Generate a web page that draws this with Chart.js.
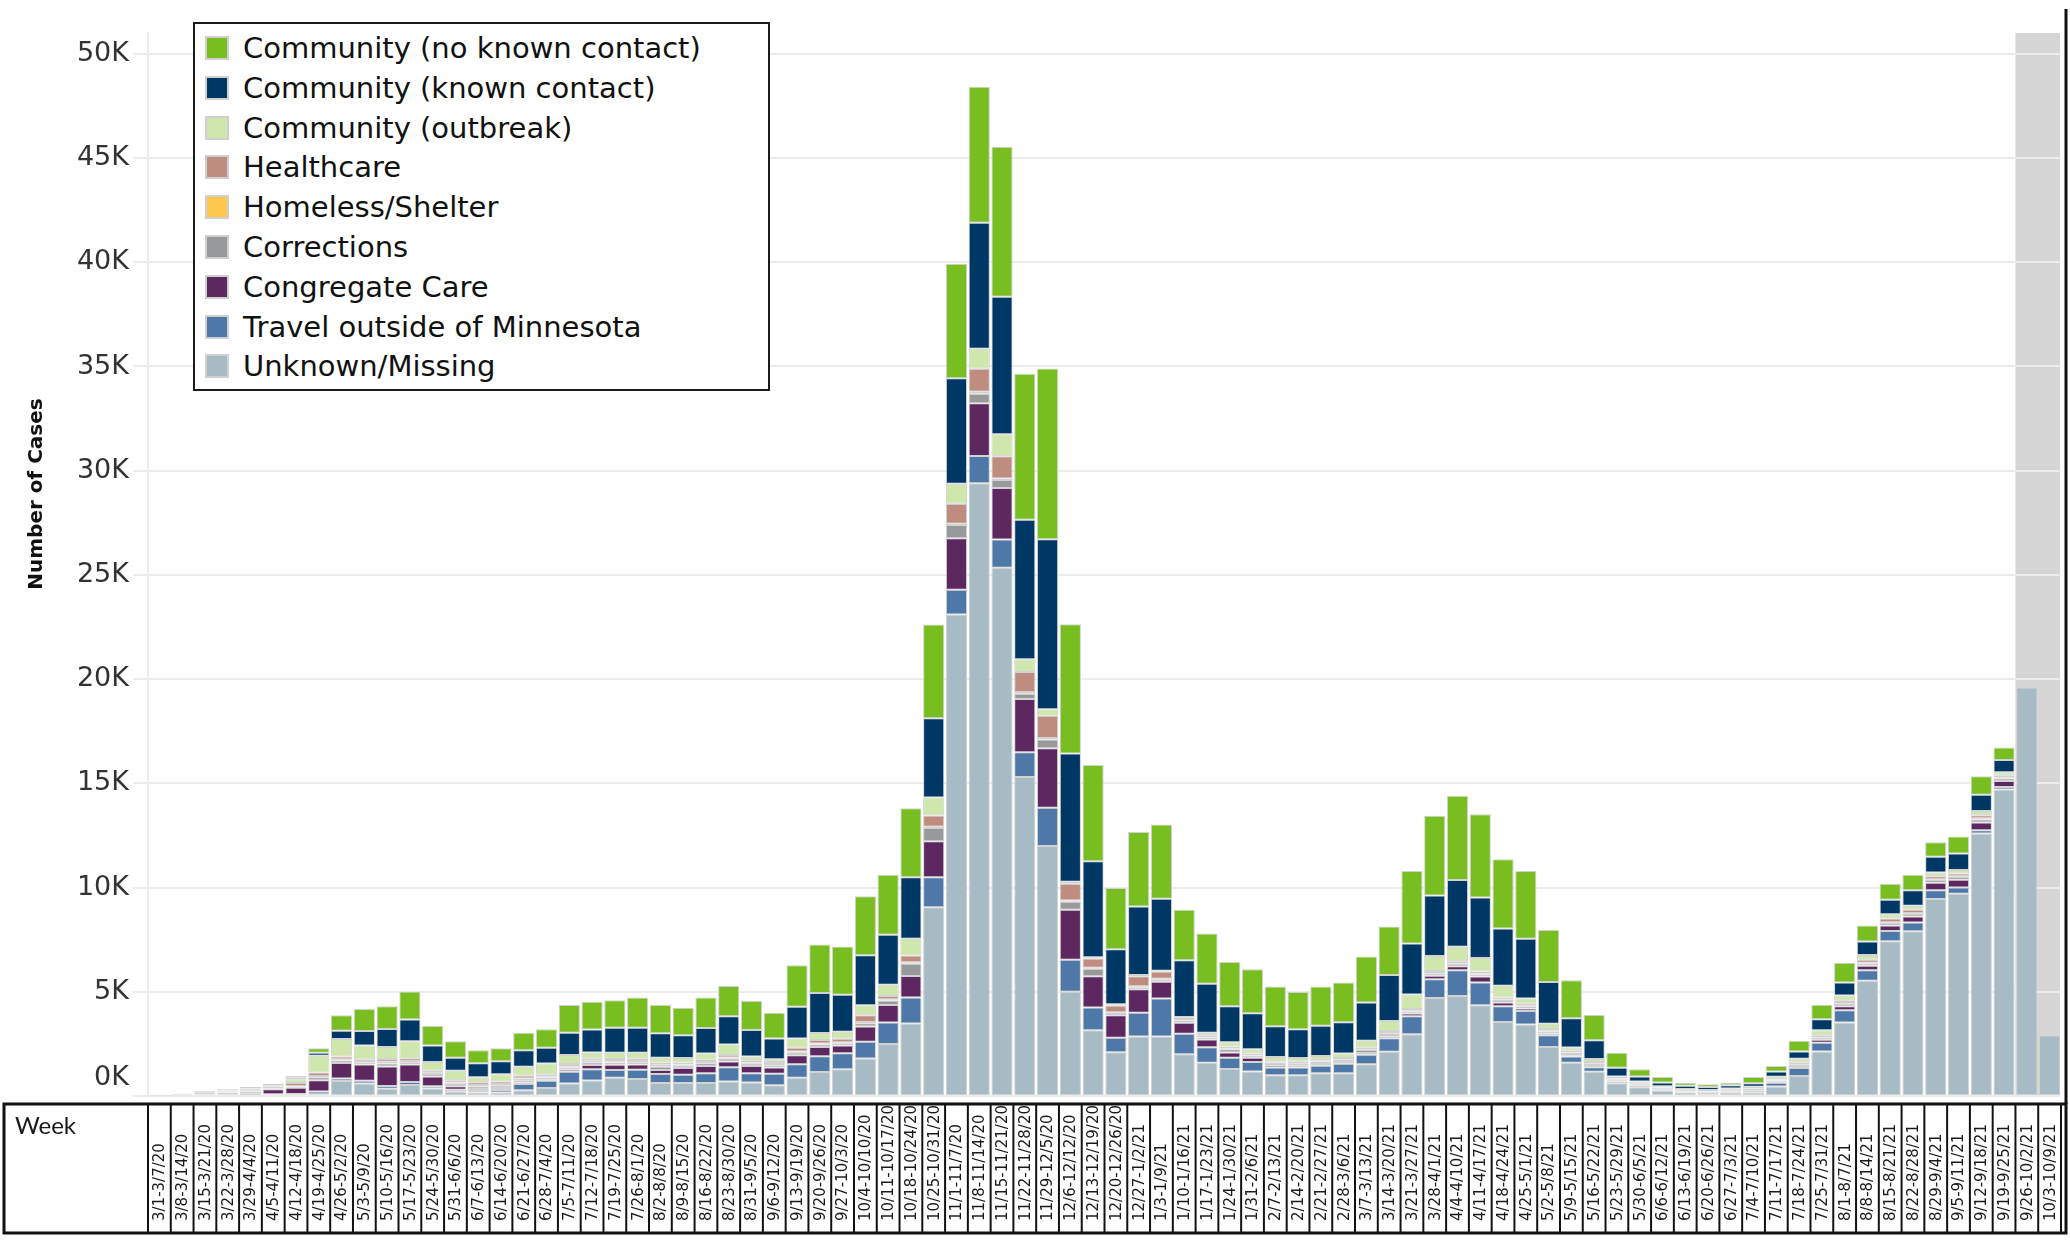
<!DOCTYPE html>
<html>
<head>
<meta charset="utf-8">
<title>Cases by likely exposure, by week</title>
<script src="https://cdn.jsdelivr.net/npm/chart.js@4.4.1/dist/chart.umd.min.js"></script>
<style>
  body { margin: 0; background: #fff; }
  #wrap { position: relative; width: 2070px; height: 1241px; }
  #legend {
    position: absolute; left: 193px; top: 22px; width: 573px; height: 365px;
    border: 2px solid #1a1a1a; background: #fff;
    font-family: "DejaVu Sans", sans-serif; font-size: 29px; color: #111;
  }
  .item { position: absolute; left: 10px; height: 40px; display: flex; align-items: center; white-space: nowrap; }
  .swatch { width: 20px; height: 20px; border: 2px solid #d0d0d0; margin-right: 14px; }
</style>
</head>
<body>
<div id="wrap">
  <canvas id="exposure-chart" width="2070" height="1241"></canvas>
  <div id="legend"></div>
</div>
<script>
// week categories (labels copied as printed)
const weeks = ['3/1-3/7/20','3/8-3/14/20','3/15-3/21/20','3/22-3/28/20','3/29-4/4/20','4/5-4/11/20','4/12-4/18/20','4/19-4/25/20','4/26-5/2/20','5/3-5/9/20',
  '5/10-5/16/20','5/17-5/23/20','5/24-5/30/20','5/31-6/6/20','6/7-6/13/20','6/14-6/20/20','6/21-6/27/20','6/28-7/4/20','7/5-7/11/20','7/12-7/18/20',
  '7/19-7/25/20','7/26-8/1/20','8/2-8/8/20','8/9-8/15/20','8/16-8/22/20','8/23-8/30/20','8/31-9/5/20','9/6-9/12/20','9/13-9/19/20','9/20-9/26/20',
  '9/27-10/3/20','10/4-10/10/20','10/11-10/17/20','10/18-10/24/20','10/25-10/31/20','11/1-11/7/20','11/8-11/14/20','11/15-11/21/20','11/22-11/28/20','11/29-12/5/20',
  '12/6-12/12/20','12/13-12/19/20','12/20-12/26/20','12/27-1/2/21','1/3-1/9/21','1/10-1/16/21','1/17-1/23/21','1/24-1/30/21','1/31-2/6/21','2/7-2/13/21',
  '2/14-2/20/21','2/21-2/27/21','2/28-3/6/21','3/7-3/13/21','3/14-3/20/21','3/21-3/27/21','3/28-4/1/21','4/4-4/10/21','4/11-4/17/21','4/18-4/24/21',
  '4/25-5/1/21','5/2-5/8/21','5/9-5/15/21','5/16-5/22/21','5/23-5/29/21','5/30-6/5/21','6/6-6/12/21','6/13-6/19/21','6/20-6/26/21','6/27-7/3/21',
  '7/4-7/10/21','7/11-7/17/21','7/18-7/24/21','7/25-7/31/21','8/1-8/7/21','8/8-8/14/21','8/15-8/21/21','8/22-8/28/21','8/29-9/4/21','9/5-9/11/21',
  '9/12-9/18/21','9/19-9/25/21','9/26-10/2/21','10/3-10/9/21'];

// last weeks are shaded (incomplete data)
const shadedWeeks = 2;

// y ticks
const yTicks = [0, 5000, 10000, 15000, 20000, 25000, 30000, 35000, 40000, 45000, 50000];
const yMax = 51000;

// case counts per week, one list per exposure type
const noKnownContact = [
  5, 10, 40, 60, 70, 60, 90, 210, 750, 1050,
  1080, 1340, 940, 800, 620, 620, 840, 880, 1330, 1330,
  1310, 1440, 1360, 1320, 1460, 1450, 1390, 1240, 1990, 2330,
  2310, 2830, 2870, 3320, 4500, 5500, 6520, 7190, 7000, 8190,
  6200, 4620, 2940, 3580, 3570, 2420, 2420, 2130, 2110, 1900,
  1790, 1880, 1900, 2210, 2330, 3470, 3830, 4040, 4000, 3320,
  3240, 2500, 1820, 1210, 720, 350, 260, 150, 130, 130,
  300, 270, 510, 700, 950, 770, 760, 740, 700, 810,
  890, 600, 0, 0];
const knownContact = [
  5, 20, 40, 50, 60, 40, 70, 150, 400, 700,
  870, 1040, 790, 620, 670, 630, 800, 760, 1070, 1100,
  1200, 1200, 1180, 1100, 1220, 1360, 1280, 1000, 1520, 1920,
  1780, 2400, 2400, 2950, 3800, 5050, 6050, 6600, 6700, 8150,
  6150, 4600, 2640, 3290, 3450, 2720, 2340, 1720, 1730, 1480,
  1380, 1450, 1500, 1830, 2200, 2450, 2900, 3200, 2900, 2750,
  2870, 2000, 1400, 900, 420, 240, 180, 150, 140, 150,
  170, 250, 350, 520, 620, 650, 700, 740, 760, 800,
  780, 590, 0, 0];
const communityOutbreak = [
  0, 0, 0, 10, 20, 40, 180, 800, 830, 680,
  580, 820, 420, 450, 240, 340, 430, 520, 430, 300,
  300, 290, 220, 210, 300, 500, 180, 130, 450, 330,
  330, 480, 540, 800, 860, 960, 960, 1060, 610, 320,
  100, 60, 60, 60, 40, 40, 120, 200, 200, 200,
  180, 200, 220, 330, 480, 700, 720, 700, 650, 560,
  250, 250, 160, 150, 100, 60, 50, 40, 60, 60,
  80, 130, 200, 250, 250, 220, 200, 200, 180, 170,
  200, 160, 0, 0];
const healthcare = [
  0, 0, 10, 20, 50, 90, 140, 170, 140, 110,
  130, 130, 90, 110, 130, 130, 130, 90, 110, 100,
  110, 110, 110, 100, 110, 120, 100, 90, 170, 170,
  170, 320, 160, 320, 540, 960, 1100, 1060, 960, 1060,
  800, 450, 320, 480, 350, 100, 100, 100, 80, 60,
  60, 60, 60, 80, 100, 80, 100, 100, 110, 100,
  100, 90, 80, 60, 30, 30, 20, 20, 20, 20,
  20, 40, 60, 100, 120, 150, 180, 150, 140, 110,
  150, 100, 0, 0];
const homelessShelter = [
  0, 0, 0, 0, 10, 20, 30, 60, 60, 40,
  80, 60, 60, 60, 80, 80, 80, 60, 60, 80,
  60, 60, 100, 60, 60, 60, 60, 60, 60, 50,
  50, 60, 60, 80, 60, 60, 100, 80, 80, 80,
  60, 50, 40, 40, 40, 30, 30, 40, 30, 30,
  30, 30, 30, 30, 30, 30, 30, 30, 30, 30,
  30, 30, 30, 30, 20, 20, 20, 10, 10, 10,
  10, 20, 30, 30, 40, 40, 40, 40, 40, 40,
  50, 40, 0, 0];
const corrections = [
  0, 0, 0, 0, 10, 20, 60, 150, 120, 80,
  150, 110, 130, 120, 110, 110, 110, 90, 100, 120,
  110, 110, 150, 110, 130, 130, 110, 110, 120, 120,
  110, 150, 220, 580, 640, 640, 450, 380, 250, 420,
  380, 350, 100, 100, 100, 100, 80, 150, 100, 100,
  100, 100, 100, 150, 120, 100, 100, 100, 100, 120,
  100, 100, 100, 100, 60, 40, 30, 30, 40, 30,
  40, 50, 60, 80, 100, 100, 120, 130, 130, 140,
  150, 120, 0, 0];
const congregateCare = [
  0, 0, 0, 30, 80, 240, 290, 530, 740, 780,
  930, 840, 460, 170, 100, 90, 80, 70, 110, 210,
  250, 250, 190, 320, 350, 280, 350, 300, 440, 440,
  370, 740, 830, 1030, 1730, 2470, 2530, 2470, 2560, 2850,
  2400, 1500, 1080, 1120, 800, 530, 370, 250, 200, 110,
  80, 80, 80, 80, 100, 130, 170, 200, 280, 170,
  120, 80, 60, 60, 40, 40, 30, 20, 20, 20,
  30, 50, 100, 150, 200, 220, 260, 290, 360, 380,
  370, 280, 0, 0];
const travelOutside = [
  0, 30, 80, 70, 40, 20, 20, 140, 120, 130,
  130, 140, 110, 100, 70, 120, 290, 350, 560, 540,
  370, 440, 440, 400, 470, 680, 440, 550, 650, 760,
  770, 800, 1030, 1250, 1440, 1190, 1310, 1350, 1190, 1830,
  1540, 1100, 700, 1150, 1830, 990, 740, 540, 450, 380,
  380, 360, 460, 460, 650, 870, 900, 1230, 1100, 760,
  650, 570, 300, 220, 80, 80, 60, 50, 60, 60,
  90, 180, 380, 420, 580, 500, 500, 420, 420, 300,
  150, 130, 0, 0];
const unknownMissing = [
  20, 40, 70, 80, 90, 60, 80, 80, 720, 600,
  350, 530, 360, 200, 170, 170, 280, 380, 600, 740,
  880, 820, 620, 620, 620, 700, 650, 520, 870, 1150,
  1280, 1800, 2500, 3480, 9050, 23100, 29400, 25350, 15300, 12000,
  5000, 3150, 2100, 2850, 2850, 2000, 1600, 1300, 1180, 990,
  990, 1090, 1090, 1520, 2120, 2960, 4700, 4800, 4350, 3550,
  3430, 2350, 1600, 1160, 610, 420, 260, 170, 80, 160,
  170, 450, 960, 2130, 3530, 5530, 7420, 7900, 9450, 9700,
  12600, 14700, 19600, 2900];

// legend order (top of stack first)
const seriesNames = ['Community (no known contact)', 'Community (known contact)', 'Community (outbreak)', 'Healthcare',
  'Homeless/Shelter', 'Corrections', 'Congregate Care', 'Travel outside of Minnesota', 'Unknown/Missing'];
const seriesColors = ['#78be21', '#003865', '#cfe6ac', '#bf8d80', '#fec84b', '#97999b', '#5d2760', '#4e78a7', '#a6bbc3'];
const seriesValues = [noKnownContact, knownContact, communityOutbreak, healthcare, homelessShelter,
  corrections, congregateCare, travelOutside, unknownMissing];

// stack from the bottom: Unknown first
const datasets = seriesNames.map((name, i) => ({
  label: name,
  data: seriesValues[i],
  backgroundColor: seriesColors[i],
  borderColor: '#d2d2d2',
  borderWidth: 1,
  borderSkipped: false,
  barPercentage: 0.93,
  categoryPercentage: 1.0
})).reverse();

// html legend
const legendBox = document.getElementById('legend');
seriesNames.forEach((name, i) => {
  legendBox.innerHTML += `<div class="item" style="top:${4 + i * 39.8}px;">
      <span class="swatch" style="background:${seriesColors[i]}"></span>${name}</div>`;
});

// shaded weeks, week table under the bars, axis title
const weekTable = {
  id: 'weekTable',
  beforeDraw(chart) {
    const { ctx, chartArea, scales: { x } } = chart;
    const half = (x.getPixelForValue(1) - x.getPixelForValue(0)) / 2;
    const left = x.getPixelForValue(weeks.length - shadedWeeks) - half;
    ctx.save();
    ctx.fillStyle = '#d6d6d6';
    ctx.fillRect(left, chartArea.top, chartArea.right - left - 1, chartArea.bottom - chartArea.top);
    ctx.restore();
  },
  afterDraw(chart) {
    const { ctx, chartArea, scales: { x, y } } = chart;
    const half = (x.getPixelForValue(1) - x.getPixelForValue(0)) / 2;
    const top = 1104, bottom = 1233, outerLeft = 4, outerRight = chartArea.right + 5;
    ctx.save();

    // right frame line
    ctx.strokeStyle = '#111';
    ctx.lineWidth = 3;
    ctx.beginPath();
    ctx.moveTo(outerRight, 9);
    ctx.lineTo(outerRight, top);
    ctx.stroke();

    ctx.strokeRect(outerLeft, top, outerRight - outerLeft, bottom - top);

    ctx.lineWidth = 2;
    for (let i = 0; i <= weeks.length; i++) {
      const bx = i < weeks.length ? x.getPixelForValue(i) - half : x.getPixelForValue(i - 1) + half;
      ctx.beginPath();
      ctx.moveTo(bx, top);
      ctx.lineTo(bx, bottom);
      ctx.stroke();
    }

    ctx.fillStyle = '#1a1a1a';
    ctx.font = '24px Lato';
    ctx.textAlign = 'left';
    ctx.textBaseline = 'middle';
    ctx.fillText('Week', 15, 1126);

    ctx.font = '15px "DejaVu Sans"';
    weeks.forEach((w, i) => {
      ctx.save();
      ctx.translate(x.getPixelForValue(i) + 1, bottom - 12);
      ctx.rotate(-Math.PI / 2);
      ctx.fillText(w, 0, 0);
      ctx.restore();
    });

    // 0K sits a little above the baseline in the original
    ctx.font = '27px "DejaVu Sans"';
    ctx.fillStyle = '#333';
    ctx.textAlign = 'right';
    ctx.fillText('0K', 129, y.getPixelForValue(0) - 18);

    ctx.save();
    ctx.translate(37, 494);
    ctx.rotate(-Math.PI / 2);
    ctx.textAlign = 'center';
    ctx.font = 'bold 20px "DejaVu Sans"';
    ctx.fillStyle = '#111';
    ctx.fillText('Number of Cases', 0, 0);
    ctx.restore();

    ctx.restore();
  }
};

new Chart(document.getElementById('exposure-chart'), {
  type: 'bar',
  data: { labels: weeks, datasets: datasets },
  options: {
    responsive: false,
    animation: false,
    devicePixelRatio: 1,
    layout: { padding: { left: 0, top: 33, right: 9, bottom: 145 } },
    scales: {
      x: {
        stacked: true,
        afterFit(scale) { scale.height = 0; },
        ticks: { display: false },
        grid: { display: false },
        border: { display: false }
      },
      y: {
        stacked: true,
        min: 0,
        max: yMax,
        afterFit(scale) { scale.width = 148; },
        afterBuildTicks(scale) { scale.ticks = yTicks.map(v => ({ value: v })); },
        ticks: {
          padding: 4,
          color: '#333',
          font: { family: 'DejaVu Sans', size: 27 },
          callback: v => v === 0 ? '' : (v / 1000) + 'K'
        },
        grid: { color: '#ececec', lineWidth: 2, tickLength: 15 },
        border: { display: true, color: '#ececec', width: 2 }
      }
    },
    plugins: {
      legend: { display: false },
      tooltip: { enabled: false }
    }
  },
  plugins: [weekTable]
});
</script>
</body>
</html>
